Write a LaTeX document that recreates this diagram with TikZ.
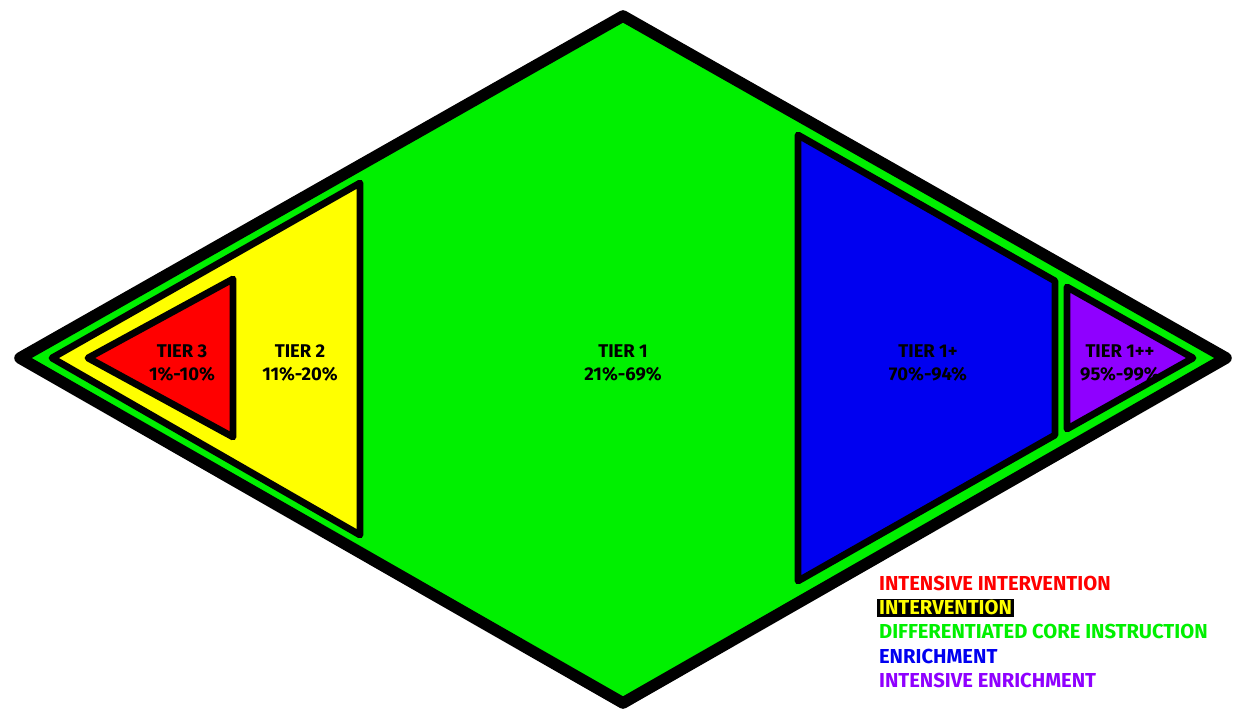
\documentclass[tikz,border=0pt]{standalone}
\usepackage{fontspec}
\setmainfont{Fira Sans}
\usetikzlibrary{positioning}
\definecolor{tgreen}{RGB}{0,240,0}
\definecolor{tyellow}{RGB}{255,255,0}
\definecolor{tred}{RGB}{255,0,0}
\definecolor{tblue}{RGB}{0,0,240}
\definecolor{tpurple}{RGB}{143,0,255}
\begin{document}
\begin{tikzpicture}[x=0.02cm, y=-0.02cm,
  zone/.style={draw=black, line width=3.9pt, line join=round},
  tierlbl/.style={font=\bfseries\fontsize{10.5}{13}\selectfont, align=center},
  key/.style={font=\bfseries\fontsize{11.5}{12}\selectfont, anchor=west, inner sep=1pt}]
\useasboundingbox (0,0) rectangle (1235,713);
% outer diamond
\draw[fill=tgreen, line width=6.6pt, line join=round] (20,358) -- (623,16) -- (1226,358) -- (623,703) -- cycle;
\draw[zone, fill=tyellow] (52,358) -- (360,183) -- (360,535) -- cycle;
\draw[zone, fill=tred] (88,358) -- (233,279) -- (233,437) -- cycle;
\draw[zone, fill=tblue] (798,135) -- (1055,281) -- (1055,435) -- (798,581) -- cycle;
\draw[zone, fill=tpurple] (1067,287) -- (1193,358) -- (1067,429) -- cycle;
% tier labels
\node[tierlbl] (t3) at (182,363) {TIER 3\\1\%-10\%};
\node[tierlbl] (t2) at (300,363) {TIER 2\\11\%-20\%};
\node[tierlbl] (t1) at (623,363) {TIER 1\\21\%-69\%};
\node[tierlbl] (t1p) at (928,363) {TIER 1+\\70\%-94\%};
\node[tierlbl] (t1pp) at (1120,363) {TIER 1++\\95\%-99\%};
% legend
\foreach \txt/\col/\bg [count=\i] in {INTENSIVE INTERVENTION/tred/none, INTERVENTION/tyellow/black, DIFFERENTIATED CORE INSTRUCTION/tgreen/none, ENRICHMENT/tblue/none, INTENSIVE ENRICHMENT/tpurple/none}
  \node[key, text=\col, fill=\bg] (k\i) at (877,559+24.3*\i) {\txt};
\end{tikzpicture}
\end{document}
